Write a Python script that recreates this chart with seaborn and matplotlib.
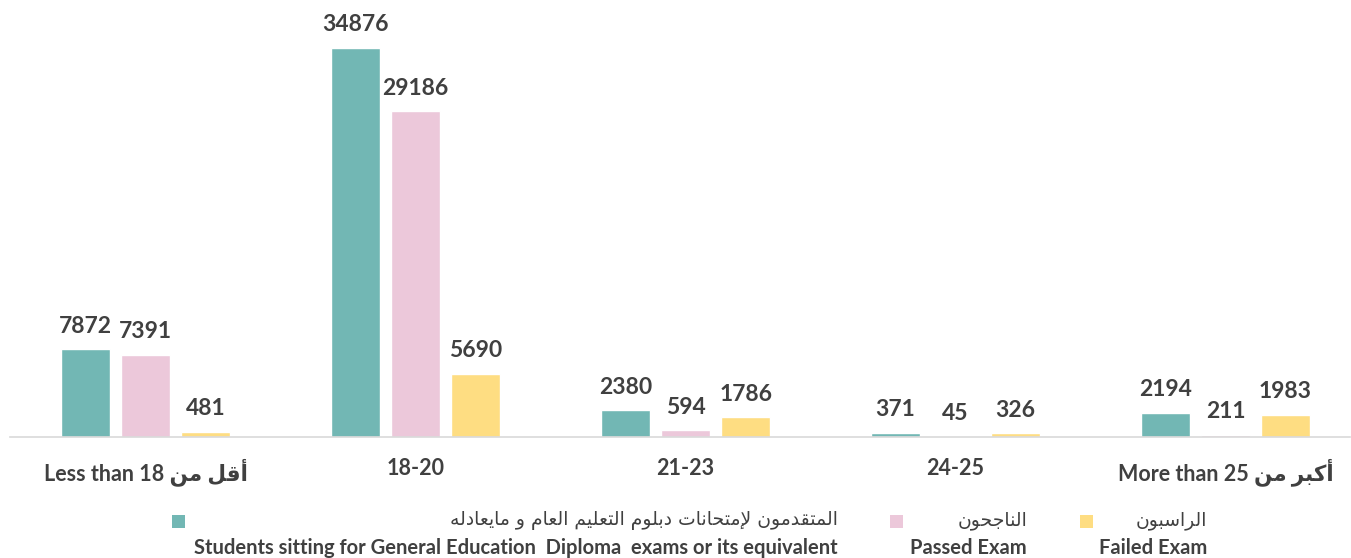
import matplotlib
matplotlib.use("Agg")
import matplotlib.pyplot as plt
import seaborn as sns
import pandas as pd
from matplotlib.patches import Rectangle

# ---------------- data ----------------
age_groups = ["Less than 18", "18-20", "21-23", "24-25", "More than 25"]
series = ["Students", "Passed", "Failed"]
students = [7872, 34876, 2380, 371, 2194]
passed = [7391, 29186, 594, 45, 211]
failed = [481, 5690, 1786, 326, 1983]

legend_ar = ["المتقدمون لإمتحانات دبلوم التعليم العام و مايعادله", "الناجحون", "الراسبون"]
legend_en = ["Students sitting for General Education  Diploma  exams or its equivalent",
             "Passed Exam", "Failed Exam"]
colors = ["#72B7B4", "#ECC8DA", "#FEDD82"]

# ------------- minimal Arabic shaping (presentation forms) -------------
FORMS = {
    '\u0627': ('\uFE8D', '\uFE8E', None, None),
    '\u0623': ('\uFE83', '\uFE84', None, None),
    '\u0625': ('\uFE87', '\uFE88', None, None),
    '\u0628': ('\uFE8F', '\uFE90', '\uFE91', '\uFE92'),
    '\u062A': ('\uFE95', '\uFE96', '\uFE97', '\uFE98'),
    '\u062C': ('\uFE9D', '\uFE9E', '\uFE9F', '\uFEA0'),
    '\u062D': ('\uFEA1', '\uFEA2', '\uFEA3', '\uFEA4'),
    '\u062F': ('\uFEA9', '\uFEAA', None, None),
    '\u0631': ('\uFEAD', '\uFEAE', None, None),
    '\u0633': ('\uFEB1', '\uFEB2', '\uFEB3', '\uFEB4'),
    '\u0639': ('\uFEC9', '\uFECA', '\uFECB', '\uFECC'),
    '\u0642': ('\uFED5', '\uFED6', '\uFED7', '\uFED8'),
    '\u0643': ('\uFED9', '\uFEDA', '\uFEDB', '\uFEDC'),
    '\u0644': ('\uFEDD', '\uFEDE', '\uFEDF', '\uFEE0'),
    '\u0645': ('\uFEE1', '\uFEE2', '\uFEE3', '\uFEE4'),
    '\u0646': ('\uFEE5', '\uFEE6', '\uFEE7', '\uFEE8'),
    '\u0647': ('\uFEE9', '\uFEEA', '\uFEEB', '\uFEEC'),
    '\u0648': ('\uFEED', '\uFEEE', None, None),
    '\u064A': ('\uFEF1', '\uFEF2', '\uFEF3', '\uFEF4'),
}
LAM_ALEF = {'\u0627': ('\uFEFB', '\uFEFC'),
            '\u0623': ('\uFEF7', '\uFEF8'),
            '\u0625': ('\uFEF9', '\uFEFA')}


def shape(text):
    tokens = []
    i = 0
    while i < len(text):
        c = text[i]
        if c == '\u0644' and i + 1 < len(text) and text[i + 1] in LAM_ALEF:
            tokens.append(('LA', text[i + 1]))
            i += 2
        else:
            tokens.append(('C', c))
            i += 1
    out = []
    for k, (t, c) in enumerate(tokens):
        prev = tokens[k - 1] if k > 0 else None
        nxt = tokens[k + 1] if k + 1 < len(tokens) else None
        prev_joins = (prev is not None and prev[0] == 'C' and prev[1] in FORMS
                      and FORMS[prev[1]][2] is not None)
        if t == 'LA':
            out.append(LAM_ALEF[c][1 if prev_joins else 0])
            continue
        if c not in FORMS:
            out.append(c)
            continue
        f = FORMS[c]
        dual = f[2] is not None
        next_join = dual and nxt is not None and (nxt[0] == 'LA' or nxt[1] in FORMS)
        if prev_joins and next_join:
            out.append(f[3])
        elif prev_joins:
            out.append(f[1])
        elif next_join:
            out.append(f[2])
        else:
            out.append(f[0])
    return ''.join(out)


def ar(text):
    return shape(text)[::-1]


tick_labels = ["Less than 18 " + ar("أقل من"), "18-20", "21-23", "24-25",
               "More than 25 " + ar("أكبر من")]

# ---------------- figure ----------------
sns.set_theme(style="white")
plt.rcParams['font.family'] = ['Lato', 'DejaVu Sans']

df = pd.DataFrame({
    "age": age_groups * 3,
    "series": [series[0]] * 5 + [series[1]] * 5 + [series[2]] * 5,
    "value": students + passed + failed,
})

fig = plt.figure(figsize=(13.51, 5.58), dpi=100)
ax = fig.add_axes([10 / 1351, 121 / 558, 1340 / 1351, (558 - 121 - 13) / 558])

sns.barplot(data=df, x="age", y="value", hue="series", order=age_groups,
            hue_order=series, palette=dict(zip(series, colors)),
            width=0.667, gap=0.19, saturation=1, legend=False, ax=ax)

text_color = "#404040"
for cont in ax.containers:
    ax.bar_label(cont, fmt="%d", padding=9, fontsize=16.5, fontweight="bold",
                 color=text_color)

ax.set_ylim(0, 38000)
ax.set_xlim(-0.502, 4.461)
ax.set_xlabel("")
ax.set_ylabel("")
ax.set_yticks([])
ax.set_xticks(range(5))
ax.set_xticklabels(tick_labels, fontsize=15.5, fontweight="bold", color=text_color)
ax.tick_params(axis="x", length=0, pad=15)
for s in ["top", "left", "right"]:
    ax.spines[s].set_visible(False)
ax.spines["bottom"].set_color("#D9D9D9")
ax.spines["bottom"].set_linewidth(1.2)

# ---------------- legend (manual) ----------------
sq_x = [172, 890, 1080]
txt_right = [838, 1027, 1207]
for i in range(3):
    fig.add_artist(Rectangle((sq_x[i] / 1351, 1 - 528 / 558), 13 / 1351, 13 / 558,
                             transform=fig.transFigure, facecolor=colors[i],
                             edgecolor="none"))
    fig.text(txt_right[i] / 1351, 1 - 521 / 558, ar(legend_ar[i]), ha="right",
             va="center", fontsize=13.5, color=text_color,
             family=['DejaVu Sans'])
    fig.text(txt_right[i] / 1351, 1 - 548 / 558, legend_en[i], ha="right",
             va="center", fontsize=14.5, fontweight="bold", color=text_color)

fig.savefig("out.png", dpi=100)
